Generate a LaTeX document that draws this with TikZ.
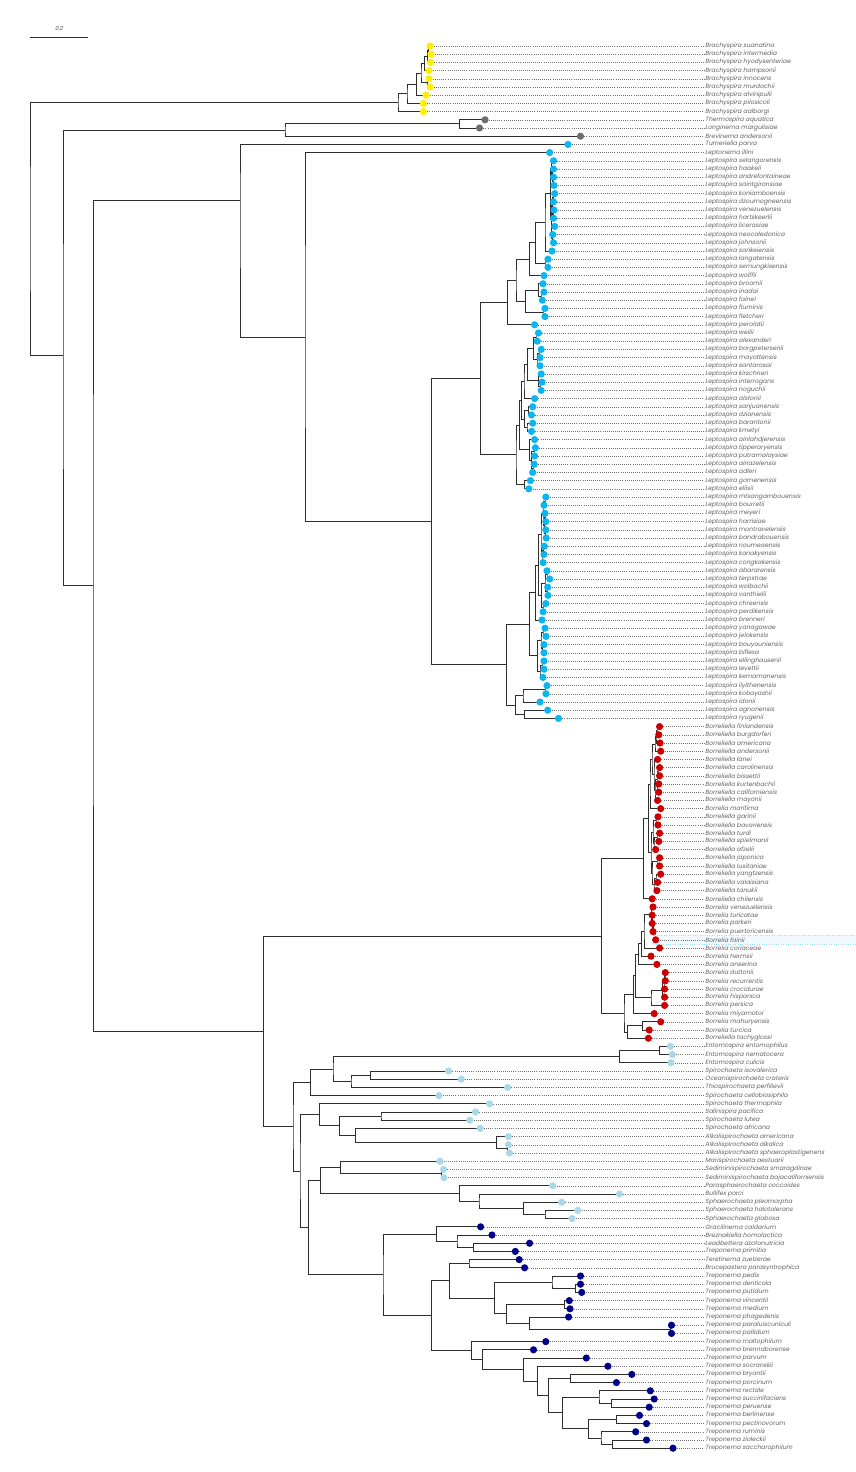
\documentclass[tikz,border=0pt]{standalone}
\usepackage{fontspec}
\newfontfamily\taxfont[FakeSlant=0.2]{Poppins}
\definecolor{cyel}{HTML}{FFEE00}
\definecolor{cgry}{HTML}{6E6E6E}
\definecolor{cblu}{HTML}{0BB5F0}
\definecolor{cred}{HTML}{CC0000}
\definecolor{clbl}{HTML}{A9D9E9}
\definecolor{cnav}{HTML}{000088}
\usetikzlibrary{calc, backgrounds}

\tikzset{
  branch/.style={draw=black!82, line width=0.9pt},
  leader/.style={draw=black!55, line width=0.5pt, dash pattern=on 0.6pt off 1.5pt},
  tip/.style={circle, inner sep=0pt, minimum size=7.2pt},
  taxon/.style={anchor=west, inner sep=1pt, text=black!62,
    font=\taxfont\fontsize{6.1}{7}\selectfont},
}

% clade{name}{x}{upper child}{lower child}
\newcommand\clade[4]{%
  \path let \p1=(#3), \p2=(#4) in coordinate (#1) at (#2, {(\y1+\y2)/2});
  \draw[branch] (#3) -| (#1) |- (#4);}
% cladeat{name}{x}{y}{upper child}{lower child}
\newcommand\cladeat[5]{%
  \coordinate (#1) at (#2, #3);
  \draw[branch] (#4) -| (#1) |- (#5);}

\begin{document}
\begin{tikzpicture}[x=1pt, y=1pt]
\useasboundingbox (0,0) rectangle (856,-1472);

% scale bar
\coordinate (sbl) at (30,-37);
\coordinate (sbr) at (88,-37);
\draw[branch, line width=0.6pt] (sbl) -- (sbr);
\node[font=\taxfont\fontsize{5.5}{6}\selectfont, text=black!70] (sbt) at (59,-28) {0.2};

% highlighted row
\fill[cyan!6] (653,-935.3) rectangle (856,-944.3);
\draw[cyan!40, line width=0.4pt, dotted] (653,-935.3) rectangle (856,-944.3);

% leaf tips
\foreach \i/\tx/\col/\taxon in {
 1/430/cyel/Brachyspira suanatina, 2/431/cyel/Brachyspira intermedia,
 3/430.5/cyel/Brachyspira hyodysenteriae, 4/429/cyel/Brachyspira hampsonii,
 5/429/cyel/Brachyspira innocens, 6/430/cyel/Brachyspira murdochii,
 7/426/cyel/Brachyspira alvinipulli, 8/423.5/cyel/Brachyspira pilosicoli,
 9/423.5/cyel/Brachyspira aalborgi,
 10/485/cgry/Thermospira aquatica, 11/479.5/cgry/Longinema margulisiae,
 12/580.5/cgry/Brevinema andersonii,
 13/568/cblu/Turneriella parva, 14/549.7/cblu/Leptonema illini,
 15/553.5/cblu/Leptospira selangorensis, 16/553.5/cblu/Leptospira haakeii,
 17/553.5/cblu/Leptospira andrefontaineae, 18/554/cblu/Leptospira saintgironsiae,
 19/554.7/cblu/Leptospira koniamboensis, 20/553.5/cblu/Leptospira dzoumogneensis,
 21/554/cblu/Leptospira venezuelensis, 22/553.5/cblu/Leptospira hartskeerlii,
 23/554.7/cblu/Leptospira licerasiae, 24/552.7/cblu/Leptospira neocaledonica,
 25/553.5/cblu/Leptospira johnsonii, 26/552/cblu/Leptospira sarikeiensis,
 27/548/cblu/Leptospira langatensis, 28/548/cblu/Leptospira semungkisensis,
 29/544/cblu/Leptospira wolffii, 30/543/cblu/Leptospira broomii,
 31/543.9/cblu/Leptospira inadai, 32/542.3/cblu/Leptospira fainei,
 33/545/cblu/Leptospira fluminis, 34/545/cblu/Leptospira fletcheri,
 35/534.6/cblu/Leptospira perolatii, 36/538.5/cblu/Leptospira weilii,
 37/537.3/cblu/Leptospira alexanderi, 38/541.2/cblu/Leptospira borgpetersenii,
 39/540/cblu/Leptospira mayottensis, 40/540/cblu/Leptospira santarosai,
 41/541.2/cblu/Leptospira kirschneri, 42/542/cblu/Leptospira interrogans,
 43/541.2/cblu/Leptospira noguchii, 44/534.6/cblu/Leptospira alstonii,
 45/532.7/cblu/Leptospira sanjuanensis, 46/531.5/cblu/Leptospira dzianensis,
 47/532.7/cblu/Leptospira barantonii, 48/531.5/cblu/Leptospira kmetyi,
 49/534.6/cblu/Leptospira ainlahdjerensis, 50/535.4/cblu/Leptospira tipperaryensis,
 51/534.6/cblu/Leptospira putramalaysiae, 52/534.2/cblu/Leptospira ainazelensis,
 53/532.7/cblu/Leptospira adleri, 54/530.4/cblu/Leptospira gomenensis,
 55/528.8/cblu/Leptospira ellisii, 56/545.8/cblu/Leptospira mtsangambouensis,
 57/544/cblu/Leptospira bourretii, 58/545/cblu/Leptospira meyeri,
 59/545.8/cblu/Leptospira harrisiae, 60/545.8/cblu/Leptospira montravelensis,
 61/546.2/cblu/Leptospira bandrabouensis, 62/544.3/cblu/Leptospira noumeaensis,
 63/544/cblu/Leptospira kanakyensis, 64/543.1/cblu/Leptospira congkakensis,
 65/547/cblu/Leptospira abararensis, 66/549.7/cblu/Leptospira terpstrae,
 67/547.7/cblu/Leptospira wolbachii, 68/548/cblu/Leptospira vanthielii,
 69/545.8/cblu/Leptospira chreensis, 70/543.1/cblu/Leptospira perdikensis,
 71/542/cblu/Leptospira brenneri, 72/545/cblu/Leptospira yanagawae,
 73/546/cblu/Leptospira jelokensis, 74/544/cblu/Leptospira bouyouniensis,
 75/544/cblu/Leptospira biflexa, 76/544/cblu/Leptospira ellinghausenii,
 77/544/cblu/Leptospira levettii, 78/543/cblu/Leptospira kemamanensis,
 79/547/cblu/Leptospira ilyithenensis, 80/546/cblu/Leptospira kobayashii,
 81/540/cblu/Leptospira idonii, 82/547.7/cblu/Leptospira agnonensis,
 83/558.5/cblu/Leptospira ryugenii,
 84/659.6/cred/Borreliella finlandensis, 85/658.8/cred/Borreliella burgdorferi,
 86/660/cred/Borreliella americana, 87/660.7/cred/Borreliella andersonii,
 88/657.6/cred/Borreliella lanei, 89/659.6/cred/Borreliella carolinensis,
 90/659.6/cred/Borreliella bissettii, 91/658.8/cred/Borreliella kurtenbachii,
 92/658.8/cred/Borreliella californiensis, 93/657.6/cred/Borreliella mayonii,
 94/660.7/cred/Borrelia maritima, 95/658/cred/Borreliella garinii,
 96/658/cred/Borreliella bavariensis, 97/659.6/cred/Borreliella turdi,
 98/658.8/cred/Borreliella spielmanii, 99/655.7/cred/Borreliella afzelii,
 100/659.6/cred/Borreliella japonica, 101/659.6/cred/Borreliella lusitaniae,
 102/660.7/cred/Borreliella yangtzensis, 103/657.6/cred/Borreliella valaisiana,
 104/656.9/cred/Borreliella tanukii, 105/652.2/cred/Borreliella chilensis,
 106/653/cred/Borrelia venezuelensis, 107/652.2/cred/Borrelia turicatae,
 108/652.2/cred/Borrelia parkeri, 109/653/cred/Borrelia puertoricensis,
 110/655.7/cred/Borrelia fainii, 111/659.6/cred/Borrelia coriaceae,
 112/651/cred/Borrelia hermsii, 113/656.9/cred/Borrelia anserina,
 114/665.3/cred/Borrelia duttonii, 115/665.3/cred/Borrelia recurrentis,
 116/664.6/cred/Borrelia crocidurae, 117/664.6/cred/Borrelia hispanica,
 118/664.6/cred/Borrelia persica, 119/654.2/cred/Borrelia miyamotoi,
 120/660.7/cred/Borrelia mahuryensis, 121/649.2/cred/Borrelia turcica,
 122/648.4/cred/Borreliella tachyglossi,
 123/670.4/clbl/Entomospira entomophilus, 124/672.3/clbl/Entomospira nematocera,
 125/671/clbl/Entomospira culicis, 126/448.6/clbl/Spirochaeta isovalerica,
 127/461.3/clbl/Oceanispirochaeta crateris, 128/507.6/clbl/Thiospirochaeta perfilievii,
 129/439/clbl/Spirochaeta cellobiosiphila, 130/489.6/clbl/Spirochaeta thermophila,
 131/475.6/clbl/Salinispira pacifica, 132/469.8/clbl/Spirochaeta lutea,
 133/480.2/clbl/Spirochaeta africana, 134/508.4/clbl/Alkalispirochaeta americana,
 135/508.4/clbl/Alkalispirochaeta alkalica, 136/509.5/clbl/Alkalispirochaeta sphaeroplastigenens,
 137/440/clbl/Marispirochaeta aestuarii, 138/443.6/clbl/Sediminispirochaeta smaragdinae,
 139/444/clbl/Sediminispirochaeta bajacaliforniensis, 140/552.7/clbl/Parasphaerochaeta coccoides,
 141/619.5/clbl/Bullifex porci, 142/561.6/clbl/Sphaerochaeta pleomorpha,
 143/577.8/clbl/Sphaerochaeta halotolerans, 144/572/clbl/Sphaerochaeta globosa,
 145/480.6/cnav/Gracilinema caldarium, 146/492/cnav/Breznakiella homolactica,
 147/529.6/cnav/Leadbettera azotonutricia, 148/515.3/cnav/Treponema primitia,
 149/519.2/cnav/Teretinema zuelzerae, 150/524.6/cnav/Brucepastera parasyntrophica,
 151/580.5/cnav/Treponema pedis, 152/580.5/cnav/Treponema denticola,
 153/581.7/cnav/Treponema putidum, 154/569.3/cnav/Treponema vincentii,
 155/570/cnav/Treponema medium, 156/568.6/cnav/Treponema phagedenis,
 157/671.5/cnav/Treponema paraluiscuniculi, 158/671.5/cnav/Treponema pallidum,
 159/545.8/cnav/Treponema maltophilum, 160/533.5/cnav/Treponema brennaborense,
 161/586.3/cnav/Treponema parvum, 162/607.9/cnav/Treponema socranskii,
 163/631.8/cnav/Treponema bryantii, 164/616.4/cnav/Treponema porcinum,
 165/650.3/cnav/Treponema rectale, 166/654.2/cnav/Treponema succinifaciens,
 167/649.2/cnav/Treponema peruense, 168/639.5/cnav/Treponema berlinense,
 169/646.5/cnav/Treponema pectinovorum, 170/635.7/cnav/Treponema ruminis,
 171/646.5/cnav/Treponema zioleckii, 172/673/cnav/Treponema saccharophilum}
{
  \coordinate (c\i) at (\tx, {-46-8.2*(\i-1)});
  \node[tip, fill=\col] (d\i) at (c\i) {};
  \node[taxon] (n\i) at (704, {-46-8.2*(\i-1)}) {\taxon};
  \draw[leader] (d\i) -- (n\i);
}

\begin{scope}[on background layer]
% Brachyspira
\clade{bA}{428.6}{c1}{c2}
\clade{bB}{427.4}{bA}{c3}
\clade{bC}{424.7}{bB}{c4}
\clade{bD}{427.4}{c5}{c6}
\clade{bE}{421}{bC}{bD}
\clade{bF}{416.6}{bE}{c7}
\clade{bG}{407}{bF}{c8}
\clade{bra}{398}{bG}{c9}
% Brevinemataceae
\clade{thA}{459.4}{c10}{c11}
\clade{thm}{285}{thA}{c12}
% Leptospiraceae
\clade{lsA}{553}{c17}{c18}
\clade{lsB}{552.3}{c16}{lsA}
\clade{lsC}{551.5}{c15}{lsB}
\clade{lsD}{553.5}{c19}{c20}
\clade{lsE}{553.5}{c21}{c22}
\clade{lsF}{552.5}{lsD}{lsE}
\clade{lsG}{552.2}{c24}{c25}
\clade{lsH}{551.8}{c23}{lsG}
\clade{lsI}{551.2}{lsF}{lsH}
\clade{lsJ}{550.8}{lsC}{lsI}
\clade{lsK}{545}{lsJ}{c26}
\clade{lsL}{545}{c27}{c28}
\clade{lsM}{535.4}{lsK}{lsL}
\clade{lsN}{529.6}{lsM}{c29}
\clade{lsO}{541}{c31}{c32}
\clade{lsP}{538.5}{c30}{lsO}
\clade{lsQ}{543}{c33}{c34}
\clade{lsR}{525.7}{lsP}{lsQ}
\clade{lsS}{516}{lsN}{lsR}
\clade{lsT}{507.6}{lsS}{c35}
\clade{lwA}{536}{c36}{c37}
\clade{lwB}{539}{c38}{c39}
\clade{lwC}{537}{lwB}{c40}
\clade{lwD}{533.5}{lwA}{lwC}
\clade{lwE}{540}{c42}{c43}
\clade{lwF}{538.5}{c41}{lwE}
\clade{lwG}{527.7}{lwD}{lwF}
\clade{lwH}{524}{lwG}{c44}
\clade{lwI}{528.5}{c45}{c46}
\clade{lwJ}{527}{c47}{c48}
\clade{lwK}{524.6}{lwI}{lwJ}
\clade{lwL}{521.5}{lwH}{lwK}
\clade{lwM}{534}{c50}{c51}
\clade{lwN}{533}{c52}{c53}
\clade{lwO}{531.5}{lwM}{lwN}
\clade{lwP}{529.6}{c49}{lwO}
\clade{lwQ}{519.5}{lwL}{lwP}
\clade{lwR}{524.6}{c54}{c55}
\clade{lwS}{516}{lwQ}{lwR}
\clade{lpath}{480.2}{lsT}{lwS}
\clade{lfA}{545}{c56}{c57}
\clade{lfB}{545}{c58}{c59}
\clade{lfC}{545.5}{c60}{c61}
\clade{lfD}{544.3}{lfB}{lfC}
\clade{lfE}{543}{lfA}{lfD}
\clade{lfF}{543.5}{c62}{c63}
\clade{lfG}{542}{lfF}{c64}
\clade{lfH}{541}{lfE}{lfG}
\clade{lfI}{547}{c65}{c66}
\clade{lfJ}{547}{c67}{c68}
\clade{lfK}{545}{lfI}{lfJ}
\clade{lfL}{543}{c69}{c70}
\clade{lfM}{541.5}{lfK}{lfL}
\clade{lfN}{538.5}{lfH}{lfM}
\clade{lfO}{535.4}{lfN}{c71}
\clade{lfP}{543}{c72}{c73}
\clade{lfQ}{542.5}{c74}{c75}
\clade{lfR}{541}{lfP}{lfQ}
\clade{lfS}{542}{c76}{c77}
\clade{lfT}{540}{lfS}{c78}
\clade{lfU}{537.3}{lfR}{lfT}
\clade{lfV}{529.6}{lfO}{lfU}
\clade{lfW}{545}{c79}{c80}
\clade{lfX}{523}{lfW}{c81}
\clade{lfY}{524.6}{c82}{c83}
\clade{lfZ}{515.3}{lfX}{lfY}
\clade{lsap}{506.5}{lfV}{lfZ}
\clade{lspira}{431.3}{lpath}{lsap}
\clade{lnema}{305}{c14}{lspira}
\cladeat{lepto}{240}{-200}{c13}{lnema}
% Borreliella
\clade{boA}{657}{c84}{c85}
\clade{boB}{656}{boA}{c86}
\clade{boC}{655}{boB}{c87}
\clade{boD}{658}{c89}{c90}
\clade{boE}{657}{c91}{c92}
\clade{boF}{657}{boD}{boE}
\clade{boG}{655}{boF}{c93}
\clade{boH}{654}{c88}{boG}
\clade{boI}{652}{boC}{boH}
\clade{boJ}{650}{boI}{c94}
\clade{boK}{656}{c95}{c96}
\clade{boL}{657}{c97}{c98}
\clade{boM}{654}{boL}{c99}
\clade{boN}{653}{boK}{boM}
\clade{boO}{657}{c100}{c101}
\clade{boP}{656}{c102}{c103}
\clade{boQ}{654}{boP}{c104}
\clade{boR}{652}{boO}{boQ}
\clade{boS}{651}{boN}{boR}
\clade{boT}{648.5}{boJ}{boS}
\clade{bella}{643.4}{boT}{c105}
% Borrelia
\clade{brA}{655}{c109}{c110}
\clade{brB}{653.5}{c108}{brA}
\clade{brC}{652.5}{c107}{brB}
\clade{brD}{651}{c106}{brC}
\clade{brE}{644}{brD}{c111}
\clade{brF}{641.5}{brE}{c112}
\clade{brG}{638.8}{brF}{c113}
\clade{brH}{665}{c114}{c115}
\clade{brI}{664}{brH}{c116}
\clade{brJ}{662.6}{brI}{c117}
\clade{brK}{651}{brJ}{c118}
\clade{brL}{635.8}{brG}{brK}
\clade{brM}{633.7}{brL}{c119}
\clade{brN}{642.6}{c120}{c121}
\clade{brO}{627.6}{brN}{c122}
\clade{brel}{624}{brM}{brO}
\clade{bor}{601.7}{bella}{brel}
% Spirochaetaceae
\clade{enA}{659.6}{c123}{c124}
\clade{ento}{619.5}{enA}{c125}
\clade{spA}{370.7}{c126}{c127}
\clade{spB}{351}{spA}{c128}
\clade{spC}{333}{ento}{spB}
\clade{spD}{310.5}{spC}{c129}
\clade{spE}{381}{c131}{c132}
\clade{spF}{507.6}{c135}{c136}
\clade{spG}{496.8}{c134}{spF}
\clade{spH}{355.3}{c133}{spG}
\clade{spI}{339.9}{spE}{spH}
\clade{spJ}{319.4}{c130}{spI}
\clade{spK}{441.7}{c138}{c139}
\clade{spL}{340.6}{c137}{spK}
\clade{spM}{545}{c143}{c144}
\clade{spN}{523.8}{c142}{spM}
\clade{spO}{479}{c141}{spN}
\clade{spP}{459.4}{c140}{spO}
\clade{spQ}{320.6}{spL}{spP}
% Treponemataceae
\clade{trA}{473.7}{c147}{c148}
\clade{trB}{457}{c146}{trA}
\clade{trC}{436.3}{c145}{trB}
\clade{trD}{469}{c149}{c150}
\clade{trE}{575.9}{c152}{c153}
\clade{trF}{552}{c151}{trE}
\clade{trG}{564.3}{c154}{c155}
\clade{trH}{670.4}{c157}{c158}
\clade{trI}{529.6}{c156}{trH}
\clade{trJ}{506.5}{trG}{trI}
\clade{trK}{494.9}{trF}{trJ}
\clade{trL}{449.4}{trD}{trK}
\clade{trM}{570.9}{c163}{c164}
\clade{trN}{611.4}{c166}{c167}
\clade{trO}{599}{c165}{trN}
\clade{trP}{616.4}{c168}{c169}
\clade{trQ}{612.5}{c171}{c172}
\clade{trR}{601}{c170}{trQ}
\clade{trS}{588.2}{trP}{trR}
\clade{trT}{562.4}{trO}{trS}
\clade{trU}{548.9}{trM}{trT}
\clade{trV}{537.3}{c162}{trU}
\clade{trW}{523.8}{c161}{trV}
\clade{trX}{482.5}{c160}{trW}
\clade{trY}{471.7}{c159}{trX}
\clade{trZ}{431.3}{trL}{trY}
\clade{trep}{383}{trC}{trZ}
% backbone
\clade{grpF}{308.6}{spQ}{trep}
\clade{grpE}{300}{spJ}{grpF}
\clade{grpD}{293}{spD}{grpE}
\clade{grpC}{263.5}{bor}{grpD}
\cladeat{grpB}{93}{-585}{lepto}{grpC}
\cladeat{grpA}{63}{-355}{thm}{grpB}
\clade{root}{30}{bra}{grpA}
\end{scope}
\end{tikzpicture}
\end{document}
